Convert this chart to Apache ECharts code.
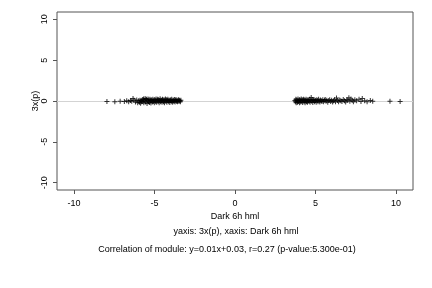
<!DOCTYPE html>
<html>
<head>
<meta charset="utf-8">
<script src="https://cdn.jsdelivr.net/npm/echarts@6/dist/echarts.min.js"></script>
<style>html,body{margin:0;padding:0;background:#fff}#c{width:432px;height:288px}</style>
</head>
<body>
<div id="c"></div>
<script>
var xTicks = [-10, -5, 0, 5, 10];
var yTicks = [-10, -5, 0, 5, 10];
var xLabel = 'Dark 6h hml';
var yLabel = '3x(p)';
var subtitle1 = 'yaxis: 3x(p), xaxis: Dark 6h hml';
var subtitle2 = 'Correlation of module: y=0.01x+0.03, r=0.27 (p-value:5.300e-01)';

var leftX = [-7.95,-7.46,-7.13,-6.87,-6.72,-6.6,-6.49,-6.41,-6.33,-6.27,-6.18,-6.1,-6.04,-5.98,-5.93,-5.9,-5.86,-5.83,-5.79,-5.75,-5.72,-5.68,-5.66,-5.62,-5.58,-5.55,-5.53,-5.49,-5.46,-5.44,-5.4,-5.37,-5.35,-5.31,-5.28,-5.25,-5.22,-5.2,-5.16,-5.13,-5.1,-5.07,-5.04,-5.01,-4.98,-4.95,-4.92,-4.9,-4.86,-4.83,-4.8,-4.77,-4.74,-4.71,-4.68,-4.65,-4.62,-4.59,-4.56,-4.53,-4.5,-4.47,-4.44,-4.41,-4.38,-4.35,-4.32,-4.29,-4.26,-4.23,-4.2,-4.17,-4.14,-4.11,-4.08,-4.05,-4.02,-3.99,-3.96,-3.93,-3.9,-3.87,-3.84,-3.81,-3.78,-3.75,-3.72,-3.69,-3.66,-3.63,-3.6,-3.57,-3.54,-3.51,-3.48,-3.45,-3.42,-3.39,-3.36];
var leftY = [-0.05,-0.08,-0.04,-0.06,0.02,-0.1,0.05,-0.02,0.32,0.08,-0.12,0.12,-0.2,0.04,-0.15,0.1,-0.28,0.06,-0.1,0.18,-0.05,0.26,-0.22,0.08,0.3,-0.12,0.15,0.22,-0.3,0.05,0.24,-0.08,0.12,-0.18,0.2,0.02,-0.25,0.16,0.06,-0.12,0.22,-0.05,0.1,-0.2,0.18,0.04,-0.1,0.24,-0.15,0.08,0.2,-0.06,0.14,-0.22,0.06,0.28,-0.1,0.12,0.02,-0.16,0.2,0.08,-0.08,0.16,-0.2,0.1,0.26,-0.04,0.14,-0.14,0.06,0.22,-0.1,0.1,0.02,-0.18,0.16,0.06,-0.08,0.2,0.0,-0.14,0.12,0.04,-0.06,0.18,-0.12,0.08,0.14,-0.04,0.1,-0.1,0.06,0.16,-0.06,0.08,0.02,-0.08,0.1];
var rightX = [3.72,3.75,3.78,3.8,3.83,3.86,3.88,3.91,3.94,3.97,4.0,4.02,4.05,4.08,4.11,4.14,4.17,4.2,4.23,4.26,4.29,4.32,4.35,4.38,4.41,4.44,4.47,4.5,4.53,4.56,4.6,4.63,4.66,4.7,4.73,4.76,4.8,4.83,4.86,4.9,4.93,4.97,5.0,5.04,5.08,5.11,5.15,5.19,5.23,5.27,5.31,5.36,5.4,5.45,5.5,5.55,5.6,5.65,5.7,5.76,5.82,5.88,5.94,6.0,6.06,6.12,6.18,6.24,6.3,6.36,6.43,6.5,6.57,6.64,6.72,6.8,6.87,6.94,7.0,7.07,7.13,7.2,7.28,7.35,7.44,7.55,7.7,7.82,7.9,8.05,8.2,8.4,8.55,9.62,10.25];
var rightY = [0.05,-0.1,0.2,-0.2,0.12,0.02,-0.15,0.24,-0.06,0.1,-0.22,0.18,0.04,-0.12,0.26,-0.04,0.14,-0.18,0.08,0.2,-0.08,0.12,-0.2,0.02,0.22,-0.1,0.1,-0.16,0.16,0.04,-0.06,0.2,-0.14,0.08,0.42,-0.04,0.14,-0.18,0.06,0.18,-0.1,0.1,0.02,-0.14,0.16,0.06,-0.08,0.2,0.0,-0.12,0.12,0.04,-0.06,0.14,-0.1,0.08,0.18,-0.04,0.1,-0.14,0.06,0.16,-0.06,0.1,-0.12,0.04,0.14,-0.08,0.36,0.06,-0.1,0.12,0.02,-0.06,0.18,0.04,-0.12,0.16,0.08,0.4,-0.04,0.24,0.1,-0.08,0.14,0.02,0.2,-0.06,0.3,0.04,-0.08,0.06,-0.04,-0.04,-0.06];

var pts = [];
for (var i = 0; i < leftX.length; i++) pts.push([leftX[i], leftY[i]]);
for (var j = 0; j < rightX.length; j++) pts.push([rightX[j], rightY[j]]);

var FONT = '"Liberation Sans", Arial, Helvetica, sans-serif';
var chart = echarts.init(document.getElementById('c'), null, {renderer: 'canvas'});
chart.setOption({
  animation: false,
  backgroundColor: '#fff',
  grid: {left: 57, right: 19, top: 12, bottom: 98, show: true, borderColor: '#555', borderWidth: 1, backgroundColor: 'transparent'},
  xAxis: {
    type: 'value', min: -11.05, max: 11.05,
    name: xLabel, nameLocation: 'middle', nameGap: 22, nameMoveOverlap: false,
    nameTextStyle: {fontFamily: FONT, fontSize: 9, color: '#000'},
    axisLine: {show: false, onZero: false},
    splitLine: {show: false},
    axisTick: {show: true, inside: false, length: 4, lineStyle: {color: '#555'}, customValues: xTicks},
    axisLabel: {fontFamily: FONT, fontSize: 9, color: '#000', margin: 9, customValues: xTicks, formatter: function(v){return String(v);}}
  },
  yAxis: {
    type: 'value', min: -10.9, max: 10.9,
    name: yLabel, nameLocation: 'middle', nameGap: 17, nameRotate: 90, nameMoveOverlap: false,
    nameTextStyle: {fontFamily: FONT, fontSize: 9, color: '#000'},
    axisLine: {show: false, onZero: false},
    splitLine: {show: false},
    axisTick: {show: true, inside: false, length: 4, lineStyle: {color: '#555'}, customValues: yTicks},
    axisLabel: {fontFamily: FONT, fontSize: 9, color: '#000', rotate: 90, margin: 8, customValues: yTicks, formatter: function(v){return String(v);}}
  },
  series: [{
    type: 'scatter',
    data: pts,
    symbol: 'path://M4,0H6V4H10V6H6V10H4V6H0V4H4Z',
    symbolSize: 5,
    itemStyle: {color: '#000'},
    markLine: {
      silent: true, symbol: ['none', 'none'], label: {show: false},
      lineStyle: {color: '#d3d3d3', type: 'solid', width: 1},
      data: [{yAxis: 0}],
      z: 1
    },
    z: 3
  }],
  graphic: [
    {type: 'text', x: 236, y: 232, style: {text: subtitle1, font: '9px ' + FONT, fill: '#000', textAlign: 'center', textVerticalAlign: 'middle'}},
    {type: 'text', x: 227, y: 250, style: {text: subtitle2, font: '9px ' + FONT, fill: '#000', textAlign: 'center', textVerticalAlign: 'middle'}}
  ]
});
</script>
</body>
</html>
